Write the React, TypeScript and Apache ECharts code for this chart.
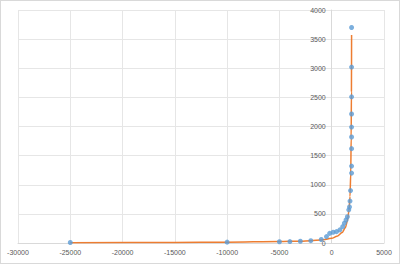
import React, { useEffect, useRef } from "react";
import * as echarts from "echarts";

const pointX = [-25000, -10000, -5000, -4000, -3000, -2000, -1000, -500, -200, 140, 460, 780, 1050, 1210, 1370, 1500, 1630, 1700, 1750, 1800, 1900, 1900, 1900, 1900, 1900, 1900, 1900, 1900, 1900];
const pointY = [8, 15, 22, 25, 30, 40, 60, 110, 165, 185, 195, 225, 280, 340, 395, 450, 570, 620, 720, 900, 1200, 1320, 1620, 1820, 1990, 2215, 2510, 3020, 3700];

const curveX = [-25000, -15000, -10000, -5000, -3000, -2000, -1000, 0, 500, 1000, 1300, 1500, 1650, 1750, 1820, 1860, 1885, 1900];
const curveY = [5, 10, 15, 25, 32, 40, 52, 80, 115, 180, 260, 380, 560, 800, 1200, 1800, 2600, 3570];

const xTicks = { min: -30000, max: 5000, interval: 5000 };
const yTicks = { min: 0, max: 4000, interval: 500 };

const GRID = { left: 17, right: 15, top: 9, bottom: 20 };
const CHART_W = 398;

export default function App() {
  const ref = useRef<HTMLDivElement>(null);
  useEffect(() => {
    document.body.style.margin = "0";
    const chart = echarts.init(ref.current!, undefined, { renderer: "svg" });
    const labelStyle = { color: "#595959", fontSize: 7, fontFamily: "Liberation Sans" };
    const plotW = CHART_W - GRID.left - GRID.right;
    const zeroOffset = ((0 - xTicks.min) / (xTicks.max - xTicks.min)) * plotW;
    chart.setOption({
      animation: false,
      backgroundColor: "#ffffff",
      grid: GRID,
      xAxis: {
        type: "value",
        min: xTicks.min,
        max: xTicks.max,
        interval: xTicks.interval,
        axisLine: { show: true, onZero: false, lineStyle: { color: "#D9D9D9", width: 1 } },
        axisTick: { show: false },
        axisLabel: { ...labelStyle, margin: 6, formatter: (v: number) => String(v) },
        splitLine: { show: true, lineStyle: { color: "#E6E6E6", width: 1 } },
      },
      yAxis: {
        type: "value",
        min: yTicks.min,
        max: yTicks.max,
        interval: yTicks.interval,
        offset: -zeroOffset,
        axisLine: { show: true, onZero: false, lineStyle: { color: "#D9D9D9", width: 1 } },
        axisTick: { show: false },
        axisLabel: { ...labelStyle, margin: 6, formatter: (v: number) => String(v) },
        splitLine: { show: true, lineStyle: { color: "#E6E6E6", width: 1 } },
      },
      series: [
        {
          type: "line",
          data: curveX.map((x, i) => [x, curveY[i]]),
          smooth: 0.3,
          smoothMonotone: "x",
          showSymbol: false,
          symbol: "none",
          lineStyle: { color: "#ED7D31", width: 1.5 },
          z: 2,
        },
        {
          type: "scatter",
          data: pointX.map((x, i) => [x, pointY[i]]),
          symbolSize: 5,
          itemStyle: { color: "#5B9BD5" },
          z: 3,
        },
      ],
    });
    return () => chart.dispose();
  }, []);
  return (
    <div style={{ width: 400, height: 264, boxSizing: "border-box", border: "1px solid #D9D9D9", background: "#fff" }}>
      <div ref={ref} style={{ width: CHART_W, height: 262 }} />
    </div>
  );
}
